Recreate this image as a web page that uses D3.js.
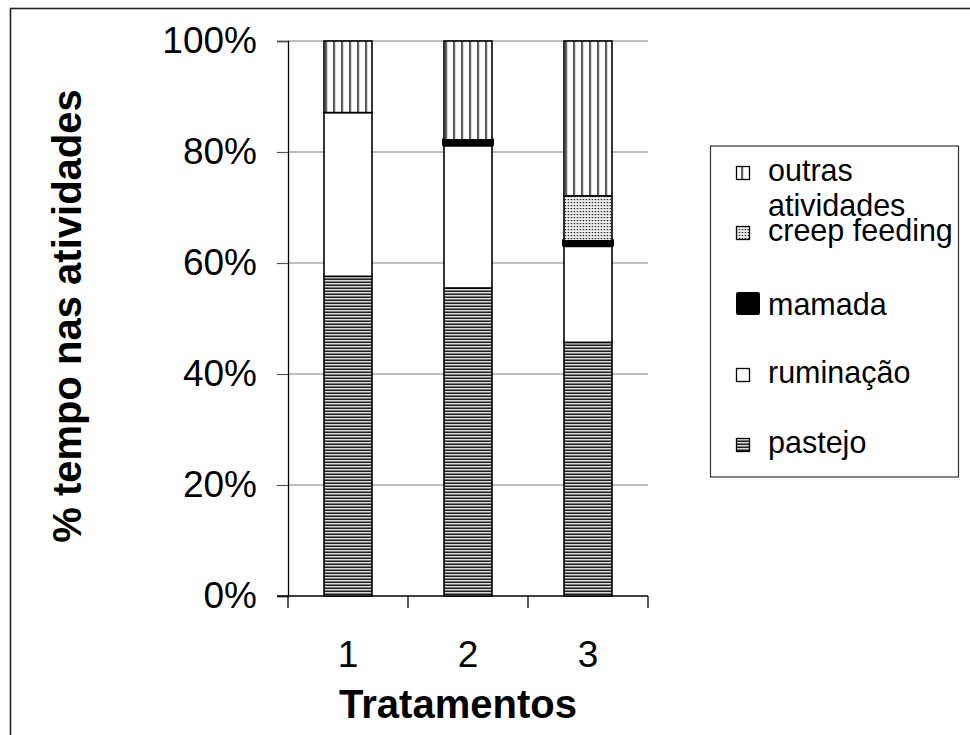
<!DOCTYPE html>
<html>
<head>
<meta charset="utf-8">
<script src="https://cdn.jsdelivr.net/npm/d3@7"></script>
<style>
  html, body { margin: 0; padding: 0; background: #fff; }
  svg { display: block; }
  text { font-family: "Liberation Sans", Arial, sans-serif; fill: #000; }
</style>
</head>
<body>
<svg id="chart" width="970" height="735"></svg>
<script>
// ---- data (percent of time) ----
const categories = ["1", "2", "3"];
const seriesNames = ["pastejo", "ruminação", "mamada", "creep feeding", "outras atividades"];
const pastejo   = [57.6, 55.5, 45.7];
const ruminacao = [29.5, 25.8, 17.5];
const mamada    = [0.0, 0.9, 0.8];
const creep     = [0.0, 0.0, 8.1];
const outras    = [12.9, 17.8, 27.9];
const yTicks    = [0, 0.2, 0.4, 0.6, 0.8, 1.0];
const legendOrder = ["outras atividades", "creep feeding", "mamada", "ruminação", "pastejo"];

const seriesValues = [pastejo, ruminacao, mamada, creep, outras];
const table = categories.map((c, i) => {
  const row = { cat: c };
  seriesNames.forEach((s, k) => row[s] = seriesValues[k][i] / 100);
  return row;
});

const svg = d3.select("#chart");

// outer frame
svg.append("rect").attr("x", 10.5).attr("y", 8.5).attr("width", 1000).attr("height", 1000)
  .attr("fill", "none").attr("stroke", "#222").attr("stroke-width", 1.6);

const x = d3.scaleBand().domain(categories).range([288, 648]).paddingInner(0.6).paddingOuter(0.3);
const y = d3.scaleLinear().domain([0, 1]).range([596, 41]);

// patterns
const defs = svg.append("defs");
const pH = defs.append("pattern").attr("id", "pPastejo").attr("patternUnits", "userSpaceOnUse")
  .attr("width", 4).attr("height", 3);
pH.append("rect").attr("width", 4).attr("height", 3).attr("fill", "#7a7a7a");
pH.append("rect").attr("y", 0).attr("width", 4).attr("height", 1).attr("fill", "#222");
pH.append("rect").attr("y", 1).attr("width", 4).attr("height", 1).attr("fill", "#dcdcdc");

const pV = defs.append("pattern").attr("id", "pOutras").attr("patternUnits", "userSpaceOnUse")
  .attr("x", x(categories[0]) + 2 - 0.7).attr("width", 8).attr("height", 4);
pV.append("rect").attr("width", 8).attr("height", 4).attr("fill", "#fff");
pV.append("rect").attr("x", 0).attr("width", 1.5).attr("height", 4).attr("fill", "#111");

const pD = defs.append("pattern").attr("id", "pCreep").attr("patternUnits", "userSpaceOnUse")
  .attr("width", 3).attr("height", 3);
pD.append("rect").attr("width", 3).attr("height", 3).attr("fill", "#eee");
pD.append("rect").attr("x", 1).attr("y", 1).attr("width", 1.2).attr("height", 1.2).attr("fill", "#333");
pD.append("rect").attr("x", 0).attr("y", 1).attr("width", 1).attr("height", 1).attr("fill", "#aaa");

const fills = {
  "pastejo": "url(#pPastejo)",
  "ruminação": "#fff",
  "mamada": "#000",
  "creep feeding": "url(#pCreep)",
  "outras atividades": "url(#pOutras)"
};

// gridlines
svg.append("g").selectAll("line").data(yTicks.filter(t => t > 0)).join("line")
  .attr("x1", 288).attr("x2", 648)
  .attr("y1", d => y(d)).attr("y2", d => y(d))
  .attr("stroke", "#808080").attr("stroke-width", 1.2);

// y axis
const yAxis = svg.append("g").attr("transform", "translate(288,0)")
  .call(d3.axisLeft(y).tickValues(yTicks).tickFormat(d3.format(".0%")).tickSize(11).tickPadding(20));
yAxis.select(".domain").attr("stroke", "#000").attr("stroke-width", 1.3);
yAxis.selectAll(".tick line").attr("stroke", "#555").attr("stroke-width", 1.2);
yAxis.selectAll(".tick text").style("font-family", "'Liberation Sans', Arial, sans-serif")
  .style("font-size", "37px").attr("fill", "#000");

// x axis
const xAxis = svg.append("g").attr("transform", "translate(0,596)")
  .call(d3.axisBottom(x).tickSize(0).tickPadding(0).tickSizeOuter(0));
xAxis.select(".domain").remove();
xAxis.selectAll(".tick text").style("font-family", "'Liberation Sans', Arial, sans-serif")
  .style("font-size", "37px").attr("fill", "#000").attr("y", 71).attr("dy", 0);
// baseline and category ticks (boundaries)
svg.append("line").attr("x1", 277).attr("x2", 648).attr("y1", y(0)).attr("y2", y(0))
  .attr("stroke", "#000").attr("stroke-width", 1.3);
const bounds = [288].concat(categories.map(c => x(c) + x.bandwidth() + x.step() * 0.3));
svg.append("g").selectAll("line").data(bounds).join("line")
  .attr("x1", d => d).attr("x2", d => d).attr("y1", y(0)).attr("y2", y(0) + 12)
  .attr("stroke", "#000").attr("stroke-width", 1.3);

// bars
const stack = d3.stack().keys(seriesNames);
const stacked = stack(table);
const gBars = svg.append("g");
stacked.forEach(layer => {
  const key = layer.key;
  gBars.append("g").selectAll("rect").data(layer.filter(d => d[1] - d[0] > 0)).join("rect")
    .attr("x", d => x(d.data.cat))
    .attr("width", x.bandwidth())
    .attr("y", d => y(d[1]))
    .attr("height", d => y(d[0]) - y(d[1]))
    .attr("fill", fills[key])
    .attr("stroke", "#000")
    .attr("stroke-width", key === "mamada" ? 4 : 1.6)
    .attr("stroke-linejoin", key === "mamada" ? "round" : "miter");
});

// axis titles
svg.append("text").attr("transform", "translate(81,316) rotate(-90)")
  .attr("text-anchor", "middle").style("font-weight", "bold").style("font-size", "40px")
  .text("% tempo nas atividades");
svg.append("text").attr("x", 458).attr("y", 718)
  .attr("text-anchor", "middle").style("font-weight", "bold").style("font-size", "40px")
  .text("Tratamentos");

// legend
const lg = svg.append("g");
lg.append("rect").attr("x", 710.5).attr("y", 146).attr("width", 248).attr("height", 331)
  .attr("fill", "#fff").attr("stroke", "#333").attr("stroke-width", 1.2);
const legendBase = { "outras atividades": 181, "creep feeding": 241, "mamada": 315, "ruminação": 383, "pastejo": 453 };
legendOrder.forEach(name => {
  const b = legendBase[name];
  if (name === "mamada") {
    lg.append("rect").attr("x", 738).attr("y", b - 21).attr("width", 20).attr("height", 19)
      .attr("fill", "#000").attr("stroke", "#000").attr("stroke-width", 4).attr("stroke-linejoin", "round");
  } else {
    lg.append("rect").attr("x", 736.5).attr("y", b - 14.5).attr("width", 13).attr("height", 13)
      .attr("fill", fills[name]).attr("stroke", "#000").attr("stroke-width", 1.3);
  }
  const t = lg.append("text").attr("x", 768).attr("y", b).style("font-size", "30.5px");
  if (name === "outras atividades") {
    t.append("tspan").attr("x", 768).text("outras");
    t.append("tspan").attr("x", 768).attr("dy", 34.5).text("atividades");
  } else {
    t.text(name);
  }
});
</script>
</body>
</html>
